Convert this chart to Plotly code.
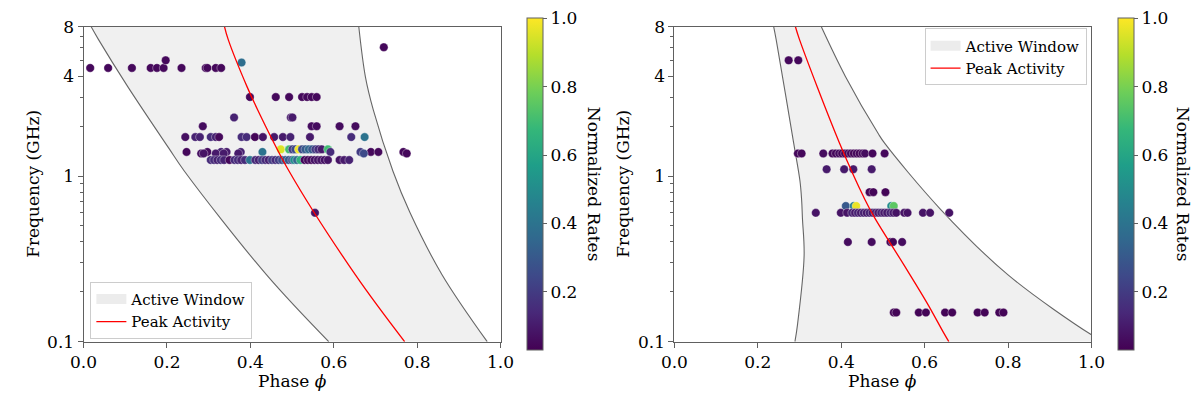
import plotly.graph_objects as go

# ---------------- data: left panel ----------------
# active window boundaries (phase, frequency GHz)
L_lo_freq = [8, 6.67, 3.47, 1.48, 1.07, 0.253, 0.1]
L_lo_phase = [0.018, 0.036, 0.106, 0.204, 0.242, 0.439, 0.588]
L_hi_freq = [8, 3.96, 2.5, 1.07, 0.6, 0.253, 0.1]
L_hi_phase = [0.66, 0.676, 0.695, 0.742, 0.783, 0.86, 0.968]
L_peak_freq = [8, 6.67, 3.47, 2.5, 1.07, 0.253, 0.1]
L_peak_phase = [0.338, 0.347, 0.392, 0.418, 0.493, 0.652, 0.77]

# detections: rows of (frequency, phases, normalized rates)
L_rows = [
    (4.5, [0.016, 0.059, 0.116, 0.161, 0.176, 0.192, 0.235, 0.293, 0.297, 0.317, 0.330],
          [0.05, 0.05, 0.05, 0.05, 0.05, 0.05, 0.05, 0.05, 0.05, 0.05, 0.05]),
    (5.0, [0.197], [0.05]),
    (4.85, [0.379], [0.38]),
    (6.0, [0.72], [0.05]),
    (0.6, [0.555], [0.08]),
    (3.0, [0.399, 0.461, 0.493, 0.524, 0.536, 0.547, 0.559],
          [0.05, 0.05, 0.05, 0.05, 0.05, 0.05, 0.05]),
    (2.26, [0.361, 0.497, 0.501], [0.12, 0.1, 0.1]),
    (2.0, [0.286, 0.547, 0.559, 0.614, 0.652], [0.06, 0.06, 0.06, 0.06, 0.06]),
    (1.72, [0.244, 0.268, 0.279, 0.305, 0.317, 0.325, 0.379, 0.391, 0.411, 0.430,
            0.457, 0.478, 0.496, 0.543, 0.642, 0.674],
           [0.07, 0.12, 0.12, 0.15, 0.12, 0.05, 0.15, 0.15, 0.04, 0.08,
            0.1, 0.1, 0.12, 0.1, 0.15, 0.4]),
    (1.45, [0.473, 0.493, 0.501, 0.508, 0.516, 0.524, 0.532, 0.540, 0.548, 0.556,
            0.563, 0.571, 0.586],
           [0.95, 0.7, 0.2, 0.25, 0.98, 0.25, 0.3, 0.35, 0.3, 0.2, 0.15, 0.1, 0.7]),
    (1.40, [0.247, 0.297, 0.330, 0.343, 0.377, 0.429, 0.592, 0.664, 0.689, 0.707, 0.767],
           [0.05, 0.06, 0.12, 0.1, 0.12, 0.4, 0.15, 0.2, 0.05, 0.05, 0.05]),
    (1.37, [0.282, 0.288, 0.317, 0.336, 0.371, 0.672, 0.775],
           [0.07, 0.08, 0.1, 0.1, 0.1, 0.25, 0.05]),
    (1.25, [0.305, 0.313, 0.321, 0.329, 0.337, 0.350, 0.362, 0.370, 0.378, 0.387,
            0.399, 0.412, 0.420, 0.428, 0.436, 0.444, 0.452, 0.460, 0.468, 0.476,
            0.484, 0.492, 0.500, 0.505, 0.512, 0.520, 0.530, 0.538, 0.546, 0.554,
            0.562, 0.570, 0.578, 0.586, 0.614, 0.625, 0.637],
           [0.15, 0.15, 0.12, 0.15, 0.12, 0.05, 0.15, 0.15, 0.12, 0.15,
            0.4, 0.15, 0.12, 0.2, 0.15, 0.12, 0.2, 0.15, 0.2, 0.25,
            0.3, 0.3, 0.25, 0.5, 0.35, 0.65, 0.05, 0.05, 0.05, 0.08,
            0.08, 0.08, 0.08, 0.08, 0.08, 0.1, 0.12]),
]

# ---------------- data: right panel ----------------
R_lo_freq = [8, 6.67, 1.58, 0.937, 0.72, 0.555, 0.33, 0.126, 0.1]
R_lo_phase = [0.238, 0.244, 0.286, 0.301, 0.305, 0.307, 0.311, 0.295, 0.289]
R_hi_freq = [8, 4, 1.8, 1.58, 0.635, 0.253, 0.11, 0.1]
R_hi_phase = [0.352, 0.41, 0.489, 0.504, 0.637, 0.80, 1.0, 1.03]
R_peak_freq = [8, 6.67, 1.58, 0.72, 0.555, 0.289, 0.171, 0.115, 0.1]
R_peak_phase = [0.29, 0.30, 0.396, 0.457, 0.481, 0.551, 0.606, 0.644, 0.658]

R_rows = [
    (5.0, [0.274, 0.297], [0.05, 0.05]),
    (1.37, [0.296, 0.305, 0.357, 0.379, 0.387, 0.395, 0.402, 0.409, 0.416, 0.423,
            0.430, 0.437, 0.444, 0.451, 0.457, 0.475, 0.504],
           [0.05, 0.05, 0.06, 0.05, 0.05, 0.06, 0.04, 0.05, 0.06, 0.05,
            0.04, 0.05, 0.04, 0.05, 0.06, 0.05, 0.05]),
    (1.1, [0.365, 0.407, 0.429, 0.473], [0.1, 0.1, 0.1, 0.1]),
    (0.8, [0.468, 0.477, 0.506], [0.04, 0.04, 0.04]),
    (0.66, [0.411, 0.430, 0.436, 0.520, 0.526], [0.3, 0.45, 0.97, 0.5, 0.75]),
    (0.6, [0.339, 0.399, 0.414, 0.426, 0.433, 0.440, 0.447, 0.454, 0.461, 0.468,
           0.475, 0.482, 0.489, 0.496, 0.503, 0.510, 0.518, 0.525, 0.532, 0.551,
           0.559, 0.596, 0.613, 0.659],
          [0.08, 0.08, 0.08, 0.12, 0.1, 0.12, 0.1, 0.12, 0.1, 0.12,
           0.1, 0.12, 0.1, 0.12, 0.1, 0.1, 0.12, 0.1, 0.08, 0.08,
           0.08, 0.08, 0.08, 0.08]),
    (0.4, [0.416, 0.473, 0.518, 0.524, 0.546], [0.06, 0.06, 0.04, 0.04, 0.06]),
    (0.15, [0.526, 0.532, 0.586, 0.603, 0.649, 0.666, 0.727, 0.744, 0.779, 0.789],
           [0.04, 0.04, 0.04, 0.04, 0.04, 0.04, 0.04, 0.04, 0.04, 0.04]),
]

y_tickvals = [0.1, 1, 4, 8]
y_ticktext = ["0.1", "1", "4", "8"]
y_minor = [0.2, 0.3, 0.4, 0.5, 0.6, 0.7, 0.8, 0.9, 2, 3, 5, 6, 7]
x_tickvals = [0.0, 0.2, 0.4, 0.6, 0.8, 1.0]
cbar_ticks = [0.2, 0.4, 0.6, 0.8, 1.0]
rate_min, rate_max = 0.03, 1.0

# ---------------- build figure ----------------
W, H = 1200, 394
FONT = "DejaVu Serif"
FS = 17
fig = go.Figure()
SMOOTH = 1.0
BAND = "#f0f0f0"

def flatten(rows):
    ph, fr, rt = [], [], []
    for f, p, r in rows:
        ph += p
        fr += [f] * len(p)
        rt += r
    return ph, fr, rt

def add_panel(xa, ya, lo_f, lo_p, hi_f, hi_p, pk_f, pk_p, rows, cax, leg):
    # band: lower edge (invisible) then upper edge filled to it
    fig.add_trace(go.Scatter(x=lo_p, y=lo_f, mode="lines",
                             line=dict(width=0, shape="spline", smoothing=SMOOTH),
                             showlegend=False, xaxis=xa, yaxis=ya, hoverinfo="skip"))
    fig.add_trace(go.Scatter(x=hi_p, y=hi_f, mode="lines", fill="tonextx",
                             fillcolor=BAND,
                             line=dict(width=0, shape="spline", smoothing=SMOOTH),
                             showlegend=False, xaxis=xa, yaxis=ya, hoverinfo="skip"))
    # legend patch for the band
    fig.add_trace(go.Scatter(x=[None], y=[None], mode="lines",
                             line=dict(color="#ececec", width=14),
                             name="Active Window", xaxis=xa, yaxis=ya, legend=leg))
    for f, p in ((lo_f, lo_p), (hi_f, hi_p)):
        fig.add_trace(go.Scatter(x=p, y=f, mode="lines",
                                 line=dict(color="#666666", width=1.1, shape="spline",
                                           smoothing=SMOOTH),
                                 showlegend=False, xaxis=xa, yaxis=ya, hoverinfo="skip"))
    ph, fr, rt = flatten(rows)
    fig.add_trace(go.Scatter(x=ph, y=fr, mode="markers", showlegend=False,
                             marker=dict(size=8.5, color=rt, coloraxis=cax,
                                         line=dict(width=0.5, color="rgba(255,255,255,0.7)")),
                             xaxis=xa, yaxis=ya))
    fig.add_trace(go.Scatter(x=pk_p, y=pk_f, mode="lines",
                             line=dict(color="red", width=1.3, shape="spline", smoothing=SMOOTH),
                             name="Peak Activity", xaxis=xa, yaxis=ya, legend=leg))

add_panel("x", "y", L_lo_freq, L_lo_phase, L_hi_freq, L_hi_phase,
          L_peak_freq, L_peak_phase, L_rows, "coloraxis", "legend")
add_panel("x2", "y2", R_lo_freq, R_lo_phase, R_hi_freq, R_hi_phase,
          R_peak_freq, R_peak_phase, R_rows, "coloraxis2", "legend2")

top_px, bot_px = 9.0, 341.0
ydom = [1 - bot_px / H, 1 - top_px / H]
xdomL = [63 / W, 490 / W]
xdomR = [668 / W, 1095 / W]
axcol = "#606060"

def xaxis(dom, anchor):
    return dict(domain=dom, anchor=anchor, range=[0, 1], tickvals=x_tickvals,
                ticktext=[f"{v:.1f}" for v in x_tickvals], ticks="outside",
                ticklen=5, tickcolor=axcol, showline=True, linecolor=axcol, linewidth=1,
                mirror=True, showgrid=False, zeroline=False, ticklabeloverflow="allow",
                tickfont=dict(family=FONT, size=FS, color="black"))

def yaxis(anchor):
    return dict(domain=ydom, anchor=anchor, type="log", range=[-1, 0.90315],
                tickvals=y_tickvals, ticktext=y_ticktext, ticks="outside", ticklen=5,
                tickcolor=axcol, showline=True, linecolor=axcol, linewidth=1, mirror=True,
                showgrid=False, zeroline=False, ticklabeloverflow="allow",
                minor=dict(tickmode="array", tickvals=y_minor, ticks="outside", ticklen=3,
                           tickcolor=axcol, showgrid=False),
                tickfont=dict(family=FONT, size=FS, color="black"))

cb_len = bot_px - top_px
cb_y = 1 - (top_px + bot_px) / 2 / H

def caxis(xpx):
    return dict(colorscale="Viridis", cmin=rate_min, cmax=rate_max + 0.0005,
                colorbar=dict(x=xpx / W, xanchor="left", y=cb_y, yanchor="middle",
                              len=cb_len, lenmode="pixels", thickness=16,
                              thicknessmode="pixels", outlinewidth=1, outlinecolor=axcol,
                              tickvals=cbar_ticks, ticktext=[f"{v:.1f}" for v in cbar_ticks],
                              ticks="outside", ticklen=4, tickcolor=axcol,
                              ticklabeloverflow="allow",
                              tickfont=dict(family=FONT, size=FS, color="black"),
                              xpad=0, ypad=0))

legend_common = dict(bgcolor="rgba(255,255,255,0.85)", bordercolor="#cccccc", borderwidth=1,
                     font=dict(family=FONT, size=15, color="black"), traceorder="normal",
                     itemwidth=30)

fig.update_layout(
    width=W, height=H, margin=dict(l=0, r=0, t=0, b=0),
    paper_bgcolor="white", plot_bgcolor="white",
    font=dict(family=FONT, size=FS, color="black"),
    xaxis=xaxis(xdomL, "y"), yaxis=yaxis("x"),
    xaxis2=xaxis(xdomR, "y2"), yaxis2=yaxis("x2"),
    coloraxis=caxis(517), coloraxis2=caxis(1122),
    legend=dict(x=70 / W, y=1 - 338 / H, xanchor="left", yanchor="bottom", **legend_common),
    legend2=dict(x=1090 / W, y=1 - 11 / H, xanchor="right", yanchor="top", **legend_common),
)

ann = []
for cx in ((63 + 490) / 2, (668 + 1095) / 2):
    ann.append(dict(text="Phase <i>ϕ</i>", x=cx / W, y=1 - 382 / H, xref="paper", yref="paper",
                    showarrow=False, xanchor="center", yanchor="middle",
                    font=dict(family=FONT, size=FS, color="black")))
for cx in (11, 615):
    ann.append(dict(text="Frequency (GHz)", x=cx / W, y=cb_y, xref="paper", yref="paper",
                    showarrow=False, textangle=-90, xanchor="center", yanchor="middle",
                    font=dict(family=FONT, size=FS, color="black")))
for cx in (586, 1189):
    ann.append(dict(text="Normalized Rates", x=cx / W, y=cb_y, xref="paper", yref="paper",
                    showarrow=False, textangle=90, xanchor="center", yanchor="middle",
                    font=dict(family=FONT, size=FS, color="black")))
fig.update_layout(annotations=ann)

fig.write_html("out.html")
